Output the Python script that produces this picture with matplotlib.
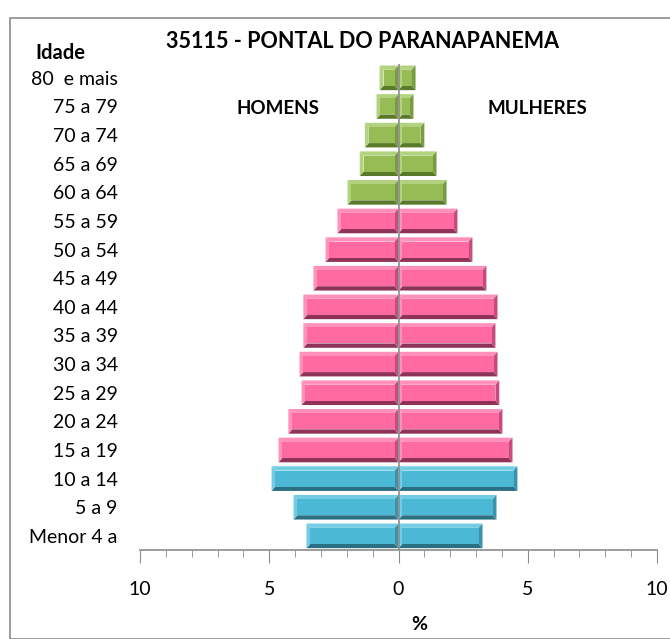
import matplotlib
matplotlib.use('Agg')
import matplotlib.pyplot as plt
from matplotlib.patches import Rectangle, Polygon

plt.rcParams['font.family'] = ['Lato', 'DejaVu Sans']

# age groups, bottom to top
ages = ['Menor 4 a', '5 a 9', '10 a 14', '15 a 19', '20 a 24', '25 a 29', '30 a 34',
        '35 a 39', '40 a 44', '45 a 49', '50 a 54', '55 a 59', '60 a 64', '65 a 69',
        '70 a 74', '75 a 79', '80  e mais']
homens = [3.56, 4.06, 4.91, 4.64, 4.26, 3.75, 3.83, 3.68, 3.68, 3.29, 2.82, 2.36,
          1.97, 1.50, 1.30, 0.85, 0.73]
mulheres = [3.25, 3.79, 4.60, 4.41, 4.02, 3.90, 3.83, 3.75, 3.83, 3.40, 2.86, 2.28,
            1.86, 1.47, 1.00, 0.58, 0.66]
# colour group per age: 0 = jovens, 1 = adultos, 2 = idosos
grupo = [0, 0, 0, 1, 1, 1, 1, 1, 1, 1, 1, 1, 2, 2, 2, 2, 2]

cores = ['#4bb8d6', '#ff6aa0', '#97bb55']
escuras = ['#2b6f82', '#8e3258', '#5a7a2a']
medias = ['#3b93ab', '#c44c7e', '#789c40']
claras = ['#74cce4', '#ff90ba', '#b2d27e']

fig = plt.figure(figsize=(6.7, 6.39), dpi=100)
fig.patches.append(Rectangle((10 / 670, 0), 1, 1 - 18 / 639, transform=fig.transFigure,
                             fill=False, edgecolor='#8c8c8c', linewidth=1.2))
ax = fig.add_axes([140 / 670, 0.139, 517 / 670, 0.7616])

h = 0.86
dx = 0.15
dy = 0.15
for i, g in enumerate(grupo):
    for x0, w in ((-homens[i], homens[i]), (0, mulheres[i])):
        x1, y0, y1 = x0 + w, i - h / 2, i + h / 2
        xi0, xi1, yi0, yi1 = x0 + dx, x1 - dx, y0 + dy, y1 - dy
        # beveled look: four sloped edges around a flat face
        ax.add_patch(Polygon([(x0, y1), (x1, y1), (xi1, yi1), (xi0, yi1)],
                             facecolor=claras[g], edgecolor='none'))
        ax.add_patch(Polygon([(x0, y0), (x1, y0), (xi1, yi0), (xi0, yi0)],
                             facecolor=escuras[g], edgecolor='none'))
        ax.add_patch(Polygon([(x0, y0), (x0, y1), (xi0, yi1), (xi0, yi0)],
                             facecolor=claras[g], edgecolor='none'))
        ax.add_patch(Polygon([(x1, y0), (x1, y1), (xi1, yi1), (xi1, yi0)],
                             facecolor=medias[g], edgecolor='none'))
        ax.add_patch(Rectangle((xi0, yi0), xi1 - xi0, yi1 - yi0,
                               facecolor=cores[g], edgecolor='none'))

ax.axvline(0, color='#8c8c8c', linewidth=1.2)
ax.set_xlim(-10, 10)
ax.set_ylim(-0.5, len(ages) - 0.5)
ax.set_yticks(range(len(ages)))
ax.set_yticklabels(ages, fontsize=14)
ax.tick_params(axis='y', length=0, pad=16)
ax.set_xticks([-10, -5, 0, 5, 10])
ax.set_xticklabels(['10', '5', '0', '5', '10'], fontsize=14)
ax.set_xticks(range(-10, 11), minor=True)
ax.tick_params(axis='x', which='major', length=9, color='#8c8c8c', pad=13)
ax.tick_params(axis='x', which='minor', length=5, color='#8c8c8c')
for s in ['top', 'right', 'left']:
    ax.spines[s].set_visible(False)
ax.spines['bottom'].set_color('#8c8c8c')
ax.spines['bottom'].set_linewidth(1.2)

fig.text(362 / 670, 1 - 42 / 639, '35115 - PONTAL DO PARANAPANEMA', ha='center',
         va='center', fontsize=15.5, fontweight='bold')
fig.text(60 / 670, 1 - 53 / 639, 'Idade', ha='center', va='center', fontsize=14.5,
         fontweight='bold')
fig.text(278 / 670, 1 - 108 / 639, 'HOMENS', ha='center', va='center', fontsize=13.5,
         fontweight='bold')
fig.text(537 / 670, 1 - 108 / 639, 'MULHERES', ha='center', va='center', fontsize=13.5,
         fontweight='bold')
fig.text(419 / 670, 1 - 625 / 639, '%', ha='center', va='center', fontsize=14,
         fontweight='bold')

fig.savefig('out.png', dpi=100)
